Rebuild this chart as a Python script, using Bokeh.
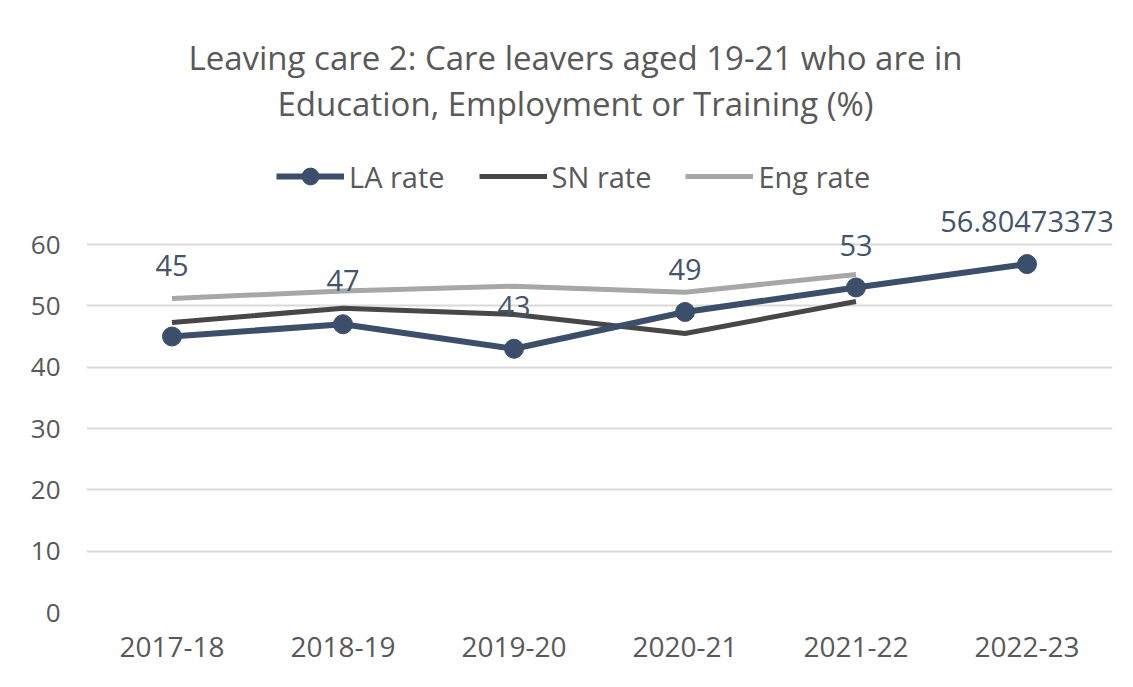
from bokeh.plotting import figure
from bokeh.models import (FactorRange, Range1d, ColumnDataSource, LabelSet, Legend,
                          LegendItem, Label, FixedTicker)
from bokeh.core.properties import value
from bokeh.embed import file_html
from bokeh.resources import INLINE

title_lines = ["Leaving care 2: Care leavers aged 19-21 who are in",
               "Education, Employment or Training (%)"]
years = ["2017-18", "2018-19", "2019-20", "2020-21", "2021-22", "2022-23"]
la_rate = [45, 47, 43, 49, 53, 56.80473373]
la_labels = ["45", "47", "43", "49", "53", "56.80473373"]
sn_years = ["2017-18", "2018-19", "2019-20", "2020-21", "2021-22"]
sn_rate = [47.3, 49.6, 48.6, 45.5, 50.7]
eng_rate = [51.2, 52.4, 53.2, 52.2, 55.1]
y_ticks = [0, 10, 20, 30, 40, 50, 60]

FONT = "Open Sans"
LA_COL = "#3B4F6B"
SN_COL = "#474747"
ENG_COL = "#A6A8A8"
TXT = "#595959"

# layout (pixels)
W, H = 1117, 671
LEFT, RIGHT, BOTTOM = 86, 5, 59
FRAME_H = H - BOTTOM            # frame runs to the top edge of the canvas
PX_PER_10 = 368.0 / 6           # value 60 sits 368 px above the baseline
Y_END = 10 * FRAME_H / PX_PER_10
PX_PER_CAT = (W - LEFT - RIGHT) / len(years)


def px_to_y(py):
    return (FRAME_H - py) / PX_PER_10 * 10


def px_to_x(px):
    return (px - LEFT) / PX_PER_CAT


p = figure(x_range=FactorRange(*years), y_range=Range1d(0, Y_END),
           width=W, height=H, output_backend="svg", toolbar_location=None,
           min_border_left=LEFT, min_border_right=RIGHT, min_border_bottom=BOTTOM,
           min_border_top=0)
p.outline_line_color = None
p.background_fill_color = "white"
p.border_fill_color = "white"

p.ygrid.grid_line_color = "#D9D9D9"
p.ygrid.grid_line_width = 2
p.xgrid.grid_line_color = None
p.yaxis.ticker = FixedTicker(ticks=y_ticks)
for ax in (p.xaxis, p.yaxis):
    ax.axis_line_color = None
    ax.major_tick_line_color = None
    ax.minor_tick_line_color = None
    ax.major_tick_out = 0
    ax.major_tick_in = 0
    ax.major_label_text_font = FONT
    ax.major_label_text_color = TXT
p.yaxis.major_label_text_font_size = "26px"
p.xaxis.major_label_text_font_size = "28px"
p.yaxis.major_label_standoff = 26
p.xaxis.major_label_standoff = 24

src_la = ColumnDataSource(dict(x=years, y=la_rate, t=la_labels,
                               off=[71, 44, 42, 42, 42, 43]))
src_sn = ColumnDataSource(dict(x=sn_years, y=sn_rate))
src_eng = ColumnDataSource(dict(x=sn_years, y=eng_rate))

r_eng = p.line("x", "y", source=src_eng, line_color=ENG_COL, line_width=5)
r_sn = p.line("x", "y", source=src_sn, line_color=SN_COL, line_width=5)
r_la = p.line("x", "y", source=src_la, line_color=LA_COL, line_width=6)
r_la_m = p.scatter("x", "y", source=src_la, size=19, fill_color=LA_COL,
                   line_color=LA_COL)

labels = LabelSet(x="x", y="y", text="t", source=src_la, y_offset="off",
                  text_align="center", text_baseline="middle",
                  text_font=value(FONT), text_font_size="29px", text_color="#44546A")
p.add_layout(labels)

legend = Legend(items=[LegendItem(label="LA rate", renderers=[r_la, r_la_m]),
                       LegendItem(label="SN rate", renderers=[r_sn]),
                       LegendItem(label="Eng rate", renderers=[r_eng])],
                orientation="horizontal", location=(190, 415),
                label_text_font=FONT, label_text_font_size="29px",
                label_text_color=TXT, glyph_width=68, glyph_height=42,
                label_standoff=5, spacing=34, padding=0, margin=0,
                border_line_color=None, background_fill_alpha=0)
p.add_layout(legend, "center")

for line, py in zip(title_lines, [57, 103]):
    p.add_layout(Label(x=px_to_x(575), y=px_to_y(py), text=line,
                       text_align="center", text_baseline="middle",
                       text_font=FONT, text_font_size="33px", text_color=TXT))

open("out.html", "w").write(file_html(p, INLINE))
